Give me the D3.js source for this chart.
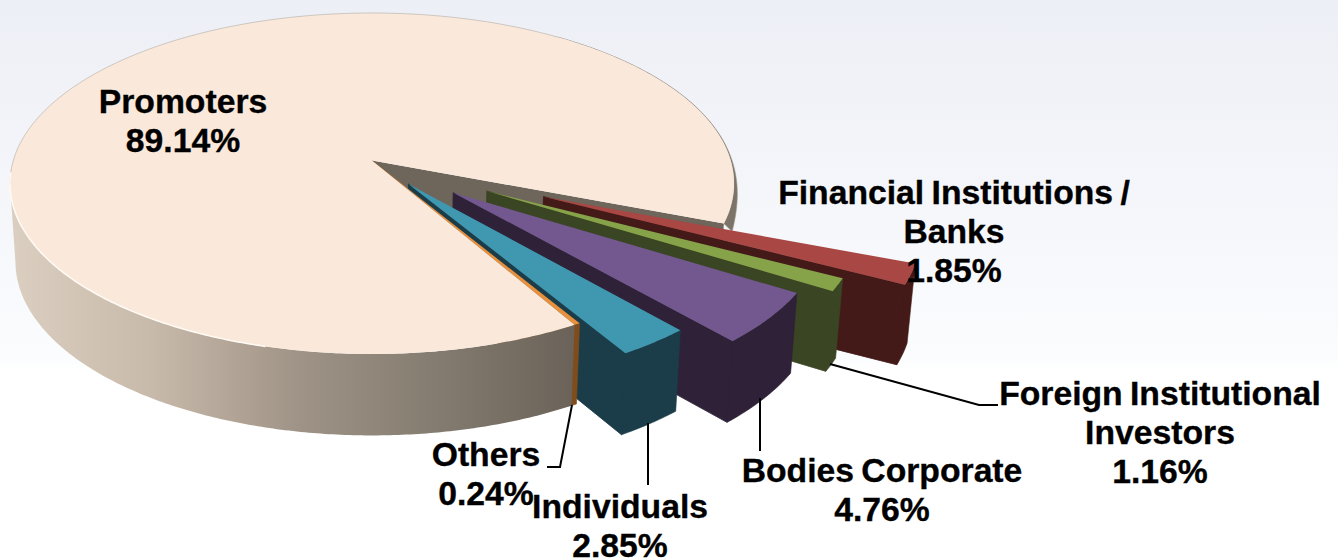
<!DOCTYPE html>
<html>
<head>
<meta charset="utf-8">
<script src="https://cdn.jsdelivr.net/npm/d3@7"></script>
<style>
html, body { margin: 0; padding: 0; background: #fff; }
text { font-family: "Liberation Sans", Arial, sans-serif; font-weight: bold; fill: #000; stroke: #000; stroke-width: 0.35px; word-spacing: -2px; }
</style>
</head>
<body>
<div id="chart"></div>
<script>
// clockwise from the upper right edge of the gap
var categories = ["Financial Institutions / Banks", "Foreign Institutional Investors", "Bodies Corporate", "Individuals", "Others", "Promoters"];
var shares = [1.85, 1.16, 4.76, 2.85, 0.24, 89.14];

var w = 1338, h = 560;

/* how far each slice is pulled out of the pie, in radii */
var explode = [0.51, 0.36, 0.29, 0.17, 0, 0];
var topColors = ["#a84744", "#87a34a", "#72588f", "#3f98b0", "#e8903c", "#fae9da"];
var sideColors = ["#431a17", "#3a4523", "#2e2138", "#1b3d49", "#7f4c1c", "#6e655b"];

/* label lines wrapped like the original */
var labelLines = [
	["Financial Institutions /", "Banks", "1.85%"],
	["Foreign Institutional", "Investors", "1.16%"],
	["Bodies Corporate", "4.76%"],
	["Individuals", "2.85%"],
	["Others", "0.24%"],
	["Promoters", "89.14%"]
];
var labelPos = [[954, 204], [1160, 405], [882, 482], [620, 518], [486, 466], [183, 113]];
var leaders = [
	null,
	[[830, 364], [979, 405], [998, 405]],
	[[760, 398], [760, 451]],
	[[648, 423], [648, 485]],
	[[572, 405], [560, 467], [547, 467]],
	null
];

var svg = d3.select("#chart")
	.append("svg")
	.attr("width", w)
	.attr("height", h)
	.style("display", "block");

var defs = svg.append("defs");
var bg = defs.append("linearGradient").attr("id", "bg")
	.attr("x1", 0).attr("y1", 0).attr("x2", 0).attr("y2", 1);
bg.append("stop").attr("offset", "0").attr("stop-color", "#edeff6");
bg.append("stop").attr("offset", "0.64").attr("stop-color", "#fbfcfe");
bg.append("stop").attr("offset", "0.66").attr("stop-color", "#ffffff");

var wallGrad = defs.append("linearGradient").attr("id", "wall")
	.attr("gradientUnits", "userSpaceOnUse")
	.attr("x1", 10).attr("y1", 0).attr("x2", 578).attr("y2", 0);
[[0, "#dbcfc1"], [0.25, "#c8baaa"], [0.51, "#9f9387"], [0.77, "#827a6e"], [1, "#6a6158"]].forEach(function(s) {
	wallGrad.append("stop").attr("offset", s[0]).attr("stop-color", s[1]);
});

svg.append("rect").attr("width", w).attr("height", h).attr("fill", "url(#bg)");

/* Scales: unit disc to screen */
var xScale = d3.scaleLinear().domain([-1, 1]).range([10, 734]);
var yScale = d3.scaleLinear().domain([-1, 1]).range([13, 354]);
var cx = xScale(0), cy = yScale(0);

// perspective: keeps the rim an ellipse but pushes the pie centre upward
var k = -0.135;
var project = function(x, y) {
	var den = 1 + k * y;
	return [xScale(x * Math.sqrt(1 - k * k) / den), yScale((y + k) / den)];
};
var drop = function(p) {
	return [cx + (p[0] - cx) * 0.985, p[1] + 78 + (p[1] - cy) * 0.02];
};
var rad = function(deg) { return deg * Math.PI / 180; };

var pie = d3.pie()
	.sort(null)
	.startAngle(rad(111))
	.endAngle(rad(111 + 360));
var slices = pie(shares);

var line = d3.line();

var rimPoints = function(a0, a1, ox, oy) {
	var n = Math.max(2, Math.ceil(Math.abs(a1 - a0) / 0.01));
	return d3.range(n + 1).map(function(i) {
		var a = a0 + (a1 - a0) * i / n;
		return project(ox + Math.sin(a), oy - Math.cos(a));
	});
};

/* Promoters back pieces first */
var promo = slices[5];
var apex = project(0, 0);
var gapRim = project(Math.sin(promo.endAngle), -Math.cos(promo.endAngle));
svg.append("path")
	.attr("d", line([apex, gapRim, drop(gapRim), drop(apex)]) + "Z")
	.attr("fill", sideColors[5]);

// thin sliver of the far wall on the right rim, widening toward the gap
var backRim = rimPoints(rad(35), rad(111), 0, 0);
var backEdge = backRim.map(function(p, i) {
	var t = i / (backRim.length - 1);
	return [p[0] + 2.2 * t + 6 * Math.pow(t, 8), p[1] + 8 * Math.pow(t, 4)];
});
svg.append("path")
	.attr("d", line(backRim.concat(backEdge.reverse())) + "Z")
	.attr("fill", "#7d7469")
	.attr("stroke", "#9a948c")
	.attr("stroke-width", 0.6);

/* Pulled out slices, back to front */
d3.range(5).forEach(function(i) {
	var s = slices[i];
	var mid = (s.startAngle + s.endAngle) / 2;
	var ox = explode[i] * Math.sin(mid), oy = -explode[i] * Math.cos(mid);
	var tip = project(ox, oy);
	var rim = rimPoints(s.startAngle, s.endAngle, ox, oy);
	var end = rim[rim.length - 1];
	// cut face and rim wall as one outline so no seam shows between them
	var side = [tip].concat(rim.slice().reverse())
		.concat(rim.map(drop))
		.concat([drop(tip)]);
	var cut = [tip, end, drop(end), drop(tip)];
	svg.append("path")
		.attr("d", line(side) + "Z" + line(cut) + "Z")
		.attr("fill", sideColors[i])
		.attr("stroke", sideColors[i])
		.attr("stroke-width", 0.6);
	svg.append("path")
		.attr("d", line([tip].concat(rim)) + "Z")
		.attr("fill", topColors[i]);
});

/* Promoters wall and top */
// the wall stops where the perspective rim is furthest left
var frontRim = rimPoints(promo.startAngle, rad(262), 0, 0);
svg.append("path")
	.attr("d", line(frontRim.concat(frontRim.map(drop).reverse())) + "Z")
	.attr("fill", "url(#wall)");
svg.append("path")
	.attr("d", line([apex].concat(rimPoints(promo.startAngle, promo.endAngle, 0, 0))) + "Z")
	.attr("fill", topColors[5]);
// grey hairline round the back of the rim, bright bevel on the lower left
svg.append("path")
	.attr("d", line(rimPoints(rad(262), rad(395), 0, 0)))
	.attr("fill", "none")
	.attr("stroke", "#b9b4ae")
	.attr("stroke-width", 0.7);
svg.append("path")
	.attr("d", line(rimPoints(rad(195), rad(266), 0, 0)))
	.attr("fill", "none")
	.attr("stroke", "#fffaf4")
	.attr("stroke-width", 1.5);

/* Leader lines */
leaders.forEach(function(d) {
	if (!d) return;
	svg.append("path")
		.attr("d", line(d))
		.attr("fill", "none")
		.attr("stroke", "#000")
		.attr("stroke-width", 2);
});

/* Labels */
labelLines.forEach(function(lines, i) {
	var t = svg.append("text")
		.attr("text-anchor", "middle")
		.attr("font-size", 33.7);
	lines.forEach(function(str, j) {
		t.append("tspan")
			.attr("x", labelPos[i][0])
			.attr("y", labelPos[i][1] + j * 39)
			.text(str);
	});
});
</script>
</body>
</html>
